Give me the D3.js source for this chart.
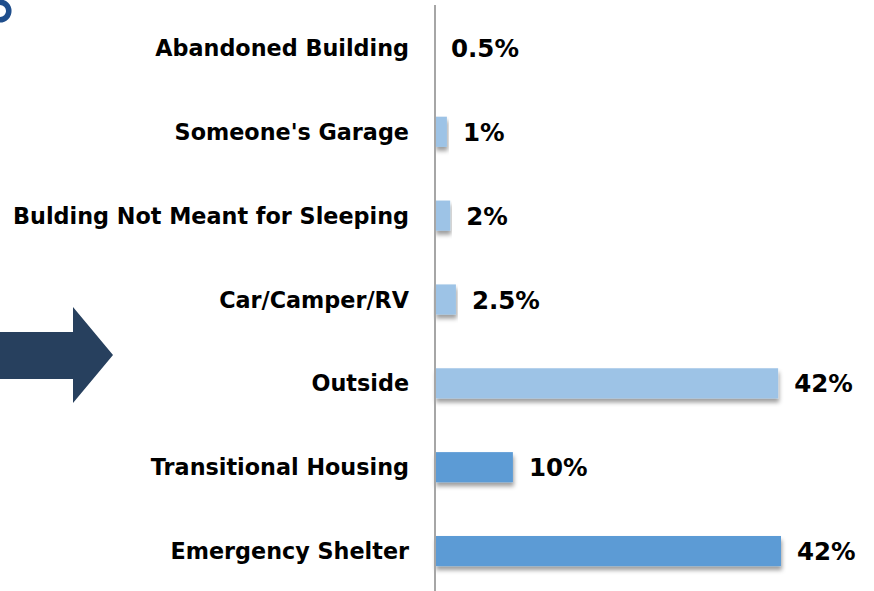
<!DOCTYPE html>
<html>
<head>
<meta charset="utf-8">
<script src="https://cdn.jsdelivr.net/npm/d3@7/dist/d3.min.js"></script>
<style>
  html, body { margin: 0; padding: 0; background: #ffffff; }
  svg { display: block; }
</style>
</head>
<body>
<svg id="chart" width="874" height="591"></svg>
<script>
// ---- data ----
const categories = [
  "Abandoned Building",
  "Someone's Garage",
  "Bulding Not Meant for Sleeping",
  "Car/Camper/RV",
  "Outside",
  "Transitional Housing",
  "Emergency Shelter"
];
// bar lengths as drawn in the picture (percent)
const barValues = [0, 1.45, 1.85, 2.55, 41.85, 9.5, 42.2];
// printed value labels
const valueLabels = ["0.5%", "1%", "2%", "2.5%", "42%", "10%", "42%"];
// colour group of each bar
const groups = ["light", "light", "light", "light", "light", "dark", "dark"];

// ---- layout ----
const W = 874, H = 591;
const axisX = 435;
const svg = d3.select("#chart");

const x = d3.scaleLinear().domain([0, 42.2]).range([axisX, 781]);
const y = d3.scaleBand().domain(categories).range([6, 593]).paddingInner(0.64).paddingOuter(0.32);
const color = d3.scaleOrdinal().domain(["light", "dark"]).range(["#9DC3E6", "#5B9BD5"]);

const defs = svg.append("defs");
const f = defs.append("filter").attr("id", "shadow")
  .attr("x", "-5%").attr("y", "-30%").attr("width", "115%").attr("height", "180%");
f.append("feDropShadow").attr("dx", 1).attr("dy", 4).attr("stdDeviation", 2.2)
  .attr("flood-color", "#000").attr("flood-opacity", 0.38);

// decorative ring fragment (top-left)
svg.append("circle").attr("cx", 0).attr("cy", 11).attr("r", 8.8)
  .attr("fill", "none").attr("stroke", "#1F4E8C").attr("stroke-width", 5.5);

// arrow
const arrow = d3.path();
arrow.moveTo(0, 332); arrow.lineTo(73, 332); arrow.lineTo(73, 307);
arrow.lineTo(113, 355); arrow.lineTo(73, 403); arrow.lineTo(73, 379);
arrow.lineTo(0, 379); arrow.closePath();
svg.append("path").attr("d", arrow.toString()).attr("fill", "#27405E");

// bars
const idx = d3.range(categories.length);
svg.append("g").selectAll("rect").data(idx).join("rect")
  .attr("x", axisX)
  .attr("y", i => y(categories[i]))
  .attr("width", i => Math.max(0, x(barValues[i]) - axisX))
  .attr("height", y.bandwidth())
  .attr("fill", i => color(groups[i]))
  .attr("filter", i => barValues[i] > 0 ? "url(#shadow)" : null);

// axis line
const yAxis = d3.axisLeft(y).tickSize(0).tickPadding(26);
const ag = svg.append("g").attr("transform", `translate(${axisX},0)`).call(yAxis);
ag.select(".domain").attr("d", `M0,5V${H}`).attr("stroke", "#A6A6A6").attr("stroke-width", 2);
ag.selectAll(".tick text")
  .attr("font-family", "'Century Gothic','DejaVu Sans',sans-serif")
  .attr("font-weight", "bold")
  .attr("font-size", "22.3px")
  .attr("fill", "#000")
  .attr("dy", "0.36em");

// value labels
svg.append("g").selectAll("text").data(idx).join("text")
  .attr("x", i => x(barValues[i]) + 16)
  .attr("y", i => y(categories[i]) + y.bandwidth() / 2)
  .attr("dy", "0.37em")
  .attr("font-family", "'Century Gothic','DejaVu Sans',sans-serif")
  .attr("font-weight", "bold")
  .attr("font-size", "24.5px")
  .attr("fill", "#000")
  .text(i => valueLabels[i]);
</script>
</body>
</html>
